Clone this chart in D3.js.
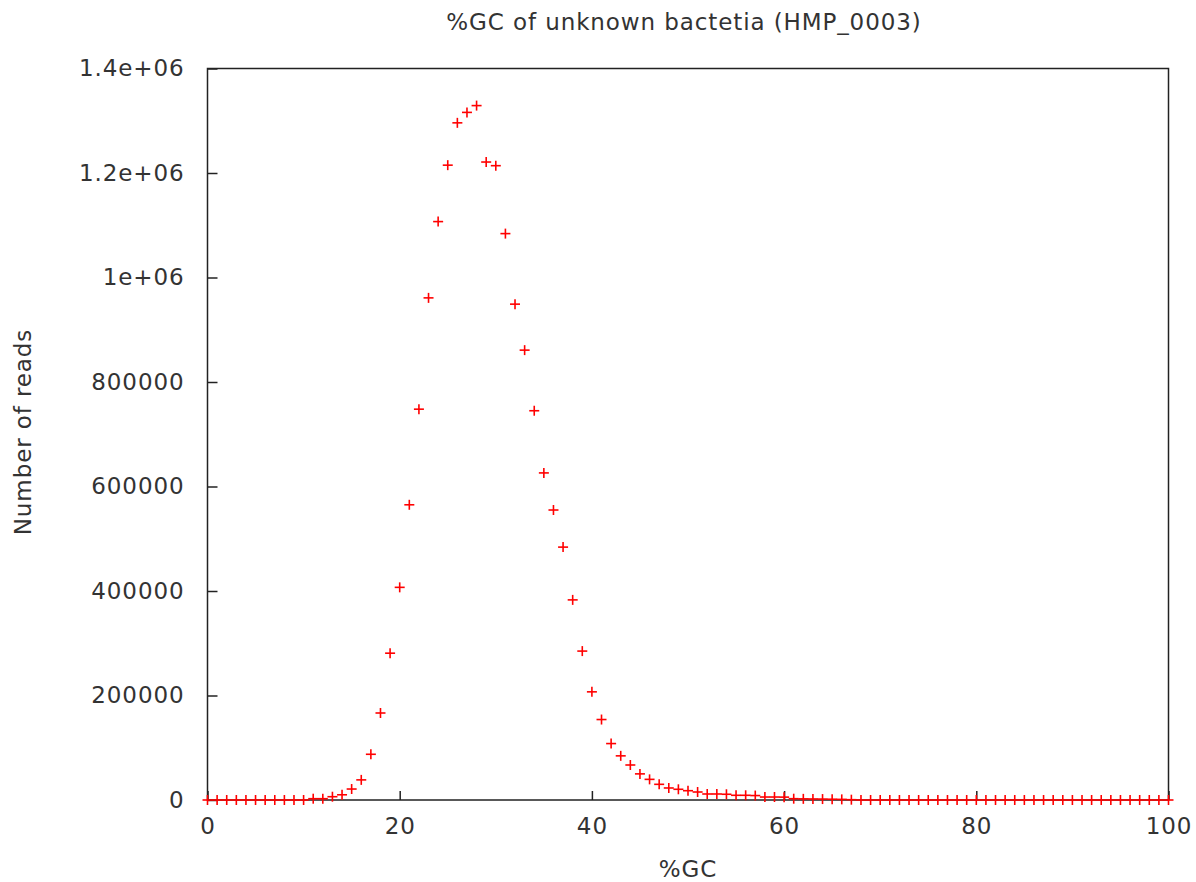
<!DOCTYPE html>
<html>
<head>
<meta charset="utf-8">
<script src="https://cdn.jsdelivr.net/npm/d3@7.9.0/dist/d3.min.js"></script>
<style>
  body { margin: 0; background: #fff; }
  svg text { font-family: "DejaVu Sans", sans-serif; fill: #333; letter-spacing: 0.9px; }
</style>
</head>
<body>
<svg id="chart" width="1196" height="882"></svg>
<script>
// %GC bins 0..100
const gcValues = d3.range(0, 101);
// reads per bin
const readCounts = [
    0, 0, 0, 0, 0, 0, 0, 0, 0, 0,            // 0-9
    0, 2500, 2500, 6300, 10000, 21000, 38500, 87500, 166500, 281000, // 10-19
    407000, 565000, 748000, 961000, 1107000, 1215000, 1296000, 1316000, 1329000, 1221000, // 20-29
    1214000, 1084000, 949000, 861000, 745000, 626000, 555000, 484000, 383000, 285000, // 30-39
    207000, 154000, 108000, 84500, 67000, 50000, 39500, 30000, 23000, 20500, // 40-49
    17800, 15300, 11500, 11500, 11000, 9000, 9000, 8500, 5700, 5700, // 50-59
    5500, 2500, 2200, 2000, 1800, 1500, 1200, 600, 0, 0,   // 60-69
    0, 0, 0, 0, 0, 0, 0, 0, 0, 0,            // 70-79
    0, 0, 0, 0, 0, 0, 0, 0, 0, 0,            // 80-89
    0, 0, 0, 0, 0, 0, 0, 0, 0, 0, 0          // 90-100
];
const xTicks = [0, 20, 40, 60, 80, 100];
const yTicks = [0, 200000, 400000, 600000, 800000, 1000000, 1200000, 1400000];
const yTickLabels = ['0', '200000', '400000', '600000', '800000', '1e+06', '1.2e+06', '1.4e+06'];

const titleText = '%GC of unknown bactetia (HMP_0003)';
const xLabel = '%GC';
const yLabel = 'Number of reads';

const svg = d3.select('#chart');
const margin = { left: 207.5, right: 1196 - 1168.5, top: 68.5, bottom: 882 - 800 };
const width = 1196 - margin.left - margin.right;
const height = 882 - margin.top - margin.bottom;
const fontSize = 23;

const x = d3.scaleLinear().domain([0, 100]).range([0, width]);
const y = d3.scaleLinear().domain([0, 1400000]).range([height, 0]);

const g = svg.append('g').attr('transform', `translate(${margin.left},${margin.top})`);

// x axis, ticks pointing inward
const xAxis = g.append('g')
    .attr('transform', `translate(0,${height})`)
    .call(d3.axisBottom(x).tickValues(xTicks).tickSize(-9).tickPadding(18));
// y axis
const yAxis = g.append('g')
    .call(d3.axisLeft(y).tickValues(yTicks).tickSize(-10).tickPadding(23)
        .tickFormat((d, i) => yTickLabels[i]));

[xAxis, yAxis].forEach((a) => {
    a.select('.domain').remove();
    a.selectAll('line').attr('stroke', '#222').attr('stroke-width', 1.5);
    a.selectAll('text').attr('font-size', fontSize).attr('fill', '#333')
        .attr('font-family', '"DejaVu Sans", sans-serif');
});

// frame
g.append('rect')
    .attr('width', width).attr('height', height)
    .attr('fill', 'none').attr('stroke', '#222').attr('stroke-width', 1.5);

// points, gnuplot style "+"
const pts = g.append('g').attr('stroke', '#ff0000').attr('stroke-width', 1.6);
const s = 5;
gcValues.forEach((gc, i) => {
    const px = x(gc), py = y(readCounts[i]);
    pts.append('line').attr('x1', px - s).attr('x2', px + s).attr('y1', py).attr('y2', py);
    pts.append('line').attr('x1', px).attr('x2', px).attr('y1', py - s).attr('y2', py + s);
});

// labels
svg.append('text')
    .attr('x', 684).attr('y', 30)
    .attr('text-anchor', 'middle').attr('font-size', fontSize)
    .text(titleText);

svg.append('text')
    .attr('x', 688).attr('y', 877)
    .attr('text-anchor', 'middle').attr('font-size', fontSize)
    .text(xLabel);

svg.append('text')
    .attr('transform', 'translate(31,432) rotate(-90)')
    .attr('text-anchor', 'middle').attr('font-size', fontSize)
    .text(yLabel);
</script>
</body>
</html>
